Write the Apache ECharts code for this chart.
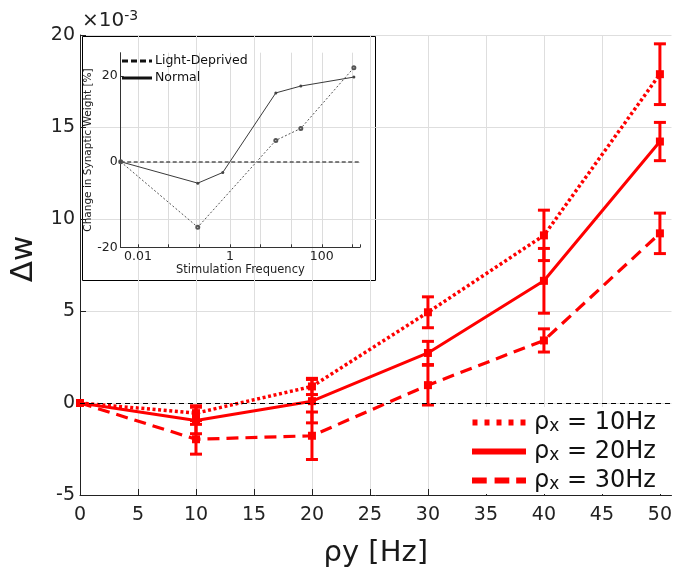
<!DOCTYPE html>
<html>
<head>
<meta charset="utf-8">
<script src="https://cdn.jsdelivr.net/npm/echarts@6/dist/echarts.min.js"></script>
<style>html,body{margin:0;padding:0;background:#fff;}#c{width:675px;height:573px;}</style>
</head>
<body>
<div id="c"></div>
<script>
// ---- main chart data ----
const rhoY = [0, 10, 20, 30, 40, 50];
const seriesNames = ['10Hz', '20Hz', '30Hz'];
const dw10 = [0, -0.55, 0.9, 4.93, 9.11, 17.87];
const err10 = [0, 0.4, 0.44, 0.84, 1.37, 1.65];
const dw20 = [0, -0.95, 0.1, 2.72, 6.64, 14.21];
const err20 = [0, 0.72, 1.18, 0.63, 1.76, 1.04];
const dw30 = [0, -1.97, -1.78, 0.97, 3.4, 9.22];
const err30 = [0, 0.81, 1.29, 1.08, 0.63, 1.1];
const mainXTicks = [0, 5, 10, 15, 20, 25, 30, 35, 40, 45, 50];
const mainYTicks = [-5, 0, 5, 10, 15, 20];

// ---- inset data ----
const insetNames = ['Light-Deprived', 'Normal'];
const normalFreq = [0.0042, 0.2, 0.7, 10, 35, 500];
const normalChange = [0, -5, -2.5, 16.1, 17.7, 19.8];
const ldFreq = [0.0042, 0.2, 10, 35, 500];
const ldChange = [0, -15.3, 5, 7.8, 22];
const insetXLabelValues = [0.01, 1, 100];
const insetXLabelTexts = ['0.01', '1', '100'];
const insetYTicks = [-20, 0, 20];

const FONT = 'DejaVu Sans';
const RED = '#ff0000';

function pairs(xs, ys) { return xs.map((x, i) => [x, ys[i]]); }
function errData(xs, ys, es) {
  return xs.map((x, i) => [x, ys[i] - es[i], ys[i] + es[i]]).filter(d => d[2] > d[1]);
}
function errRender(params, api) {
  const x = api.value(0), lo = api.value(1), hi = api.value(2);
  const pLo = api.coord([x, lo]), pHi = api.coord([x, hi]);
  const hw = 6;
  const st = { stroke: RED, lineWidth: 3, fill: null };
  return {
    type: 'group',
    children: [
      { type: 'line', shape: { x1: pLo[0], y1: pLo[1], x2: pHi[0], y2: pHi[1] }, style: st },
      { type: 'line', shape: { x1: pLo[0] - hw, y1: pLo[1], x2: pLo[0] + hw, y2: pLo[1] }, style: st },
      { type: 'line', shape: { x1: pHi[0] - hw, y1: pHi[1], x2: pHi[0] + hw, y2: pHi[1] }, style: st }
    ]
  };
}

const chart = echarts.init(document.getElementById('c'), null, { renderer: 'canvas' });

const mainLineStyles = [
  { color: RED, width: 3.5, type: [3, 2.6], cap: 'butt' },
  { color: RED, width: 3, type: 'solid' },
  { color: RED, width: 3.2, type: [12, 7], cap: 'butt' }
];
const mainVals = [dw10, dw20, dw30];
const mainErrs = [err10, err20, err30];

const series = [];
// zero reference line
series.push({
  type: 'line', name: '_zero', xAxisIndex: 0, yAxisIndex: 0, data: [], z: 1, silent: true,
  markLine: {
    silent: true, symbol: 'none', label: { show: false },
    lineStyle: { color: '#000', width: 1, type: [5, 4] },
    data: [{ yAxis: 0 }]
  }
});
seriesNames.forEach((nm, k) => {
  series.push({
    type: 'line', name: nm, xAxisIndex: 0, yAxisIndex: 0,
    data: pairs(rhoY, mainVals[k]),
    symbol: 'rect', symbolSize: 8, showAllSymbol: true,
    itemStyle: { color: RED, borderWidth: 0 },
    lineStyle: mainLineStyles[k], z: 3
  });
  series.push({
    type: 'custom', name: nm, xAxisIndex: 0, yAxisIndex: 0,
    data: errData(rhoY, mainVals[k], mainErrs[k]),
    encode: { x: 0, y: [1, 2] },
    renderItem: errRender, z: 4, silent: true
  });
});
// inset series
series.push({
  type: 'line', name: 'Light-Deprived', xAxisIndex: 1, yAxisIndex: 1,
  data: pairs(ldFreq, ldChange),
  symbol: 'emptyCircle', symbolSize: 3, showAllSymbol: true,
  itemStyle: { color: '#555', borderWidth: 1 },
  lineStyle: { color: '#555', width: 1, type: [2, 2] },
  markLine: {
    silent: true, symbol: 'none', label: { show: false },
    lineStyle: { color: '#555', width: 1.5, type: [4, 2.5] },
    data: [{ yAxis: 0 }]
  }
});
series.push({
  type: 'line', name: 'Normal', xAxisIndex: 1, yAxisIndex: 1,
  data: pairs(normalFreq, normalChange),
  symbol: 'circle', symbolSize: 3, showAllSymbol: true,
  itemStyle: { color: '#444' },
  lineStyle: { color: '#3a3a3a', width: 1 }
});

const iconDotted = 'path://M0,0h5v6h-5z M12,0h5v6h-5z M24,0h5v6h-5z M36,0h5v6h-5z M48,0h5v6h-5z';
const iconSolid = 'path://M0,0h54v6h-54z';
const iconDashed = 'path://M0,0h15v6h-15z M23,0h15v6h-15z M45,0h10v6h-10z';
const insetDashed = 'path://M0,0h6v3h-6z M9,0h6v3h-6z M18,0h6v3h-6z M27,0h3v3h-3z';
const insetSolid = 'path://M0,0h30v3h-30z';

const option = {
  backgroundColor: '#fff',
  animation: false,
  grid: [
    { left: 80, top: 35, right: 2.4, bottom: 76, containLabel: false },
    { left: 120.7, top: 52.7, right: 315, bottom: 325.7, containLabel: false }
  ],
  xAxis: [
    {
      type: 'value', gridIndex: 0, min: 0, max: 51, interval: 5,
      name: 'ρy [Hz]', nameLocation: 'middle', nameGap: 44,
      nameTextStyle: { fontFamily: FONT, fontSize: 29, color: '#1a1a1a' },
      axisLine: { show: true, onZero: false, lineStyle: { color: '#222', width: 1 } },
      axisTick: { show: true, inside: true, length: 6, customValues: mainXTicks, lineStyle: { color: '#222' } },
      axisLabel: { customValues: mainXTicks, fontFamily: FONT, fontSize: 19, color: '#222', margin: 11 },
      splitLine: { show: true, showMaxLine: false, lineStyle: { color: '#dedede', width: 1 } }
    },
    {
      type: 'log', gridIndex: 1, logBase: Math.pow(10, 2 / 3), min: 0.0042, max: 680,
      name: 'Stimulation Frequency', nameLocation: 'middle', nameGap: 14,
      nameTextStyle: { fontFamily: FONT, fontSize: 11.5, color: '#222' },
      axisLine: { show: true, onZero: false, lineStyle: { color: '#333', width: 1 } },
      axisTick: { show: true, inside: true, length: 3, lineStyle: { color: '#333' } },
      axisLabel: {
        fontFamily: FONT, fontSize: 12.5, color: '#222', margin: 3, showMinLabel: true, showMaxLabel: true,
        formatter: function (v) {
          for (let i = 0; i < insetXLabelValues.length; i++) {
            if (Math.abs(Math.log10(v) - Math.log10(insetXLabelValues[i])) < 1e-4) return insetXLabelTexts[i];
          }
          return '';
        }
      },
      splitLine: { show: true, showMinLine: false, showMaxLine: false, lineStyle: { color: '#dcdcdc', width: 1 } }
    }
  ],
  yAxis: [
    {
      type: 'value', gridIndex: 0, min: -5, max: 20, interval: 5,
      name: 'Δw', nameLocation: 'middle', nameGap: 36, nameRotate: 90,
      nameTextStyle: { fontFamily: FONT, fontSize: 31, color: '#1a1a1a', padding: [0, 0, 0, 12] },
      axisLine: { show: true, onZero: false, lineStyle: { color: '#222', width: 1 } },
      axisTick: { show: true, inside: true, length: 6, customValues: mainYTicks, lineStyle: { color: '#222' } },
      axisLabel: { customValues: mainYTicks, fontFamily: FONT, fontSize: 19, color: '#222', margin: 5 },
      splitLine: { show: true, showMinLine: false, lineStyle: { color: '#dedede', width: 1 } }
    },
    {
      type: 'value', gridIndex: 1, min: -20, max: 25.5, interval: 5,
      name: 'Change in Synaptic Weight [%]', nameLocation: 'middle', nameGap: 20, nameRotate: 90,
      nameTextStyle: { fontFamily: FONT, fontSize: 10.5, color: '#222' },
      axisLine: { show: true, onZero: false, lineStyle: { color: '#333', width: 1 } },
      axisTick: { show: true, inside: true, length: 3, customValues: insetYTicks, lineStyle: { color: '#333' } },
      axisLabel: { customValues: insetYTicks, fontFamily: FONT, fontSize: 12.5, color: '#222', margin: 3 },
      splitLine: { show: true, showMinLine: false, showMaxLine: false, lineStyle: { color: '#dcdcdc', width: 1 } }
    }
  ],
  legend: [
    {
      orient: 'vertical', left: 466, top: 407, padding: [2, 6, 0, 6],
      backgroundColor: '#fff', itemGap: 2, itemWidth: 54, itemHeight: 6,
      selectedMode: false,
      itemStyle: { borderWidth: 0 },
      data: [
        { name: '10Hz', icon: iconDotted },
        { name: '20Hz', icon: iconSolid },
        { name: '30Hz', icon: iconDashed }
      ],
      formatter: function (name) { return 'ρ{sub|x} = ' + name; },
      textStyle: {
        fontFamily: FONT, fontSize: 24, color: '#111', lineHeight: 27, padding: [0, 0, 0, 3],
        rich: { sub: { fontFamily: FONT, fontSize: 17, color: '#111', lineHeight: 27, padding: [8, 0, 0, 0] } }
      }
    },
    {
      orient: 'vertical', left: 120, top: 51, padding: [2, 2, 2, 2],
      itemGap: 1, itemWidth: 30, itemHeight: 3, selectedMode: false,
      itemStyle: { borderWidth: 0 },
      data: [
        { name: 'Light-Deprived', icon: insetDashed, itemStyle: { color: '#111' } },
        { name: 'Normal', icon: insetSolid, itemStyle: { color: '#111' } }
      ],
      textStyle: { fontFamily: FONT, fontSize: 12.5, color: '#111', lineHeight: 16, padding: [0, 0, 0, -2] }
    }
  ],
  graphic: [
    {
      type: 'rect', left: 80, top: 34, z: 0, silent: true,
      shape: { x: 0, y: 0, width: 293, height: 244 },
      style: { fill: null, stroke: '#000', lineWidth: 1 }
    },
    {
      type: 'text', left: 82, top: 9, silent: true,
      style: {
        text: '×10{sup|-3}', fontFamily: FONT, fontSize: 20, fill: '#222',
        rich: { sup: { fontFamily: FONT, fontSize: 14, fill: '#222', padding: [0, 0, 10, 0] } }
      }
    }
  ],
  series: series
};
chart.setOption(option);
</script>
</body>
</html>
